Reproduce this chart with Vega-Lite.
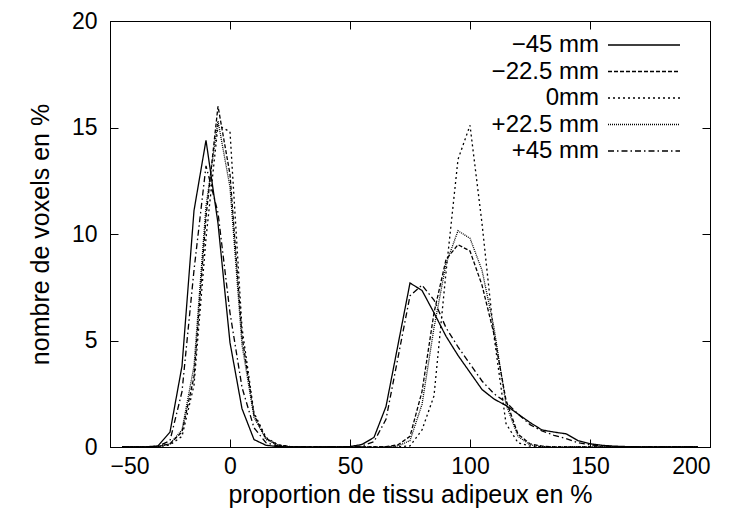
{
  "$schema": "https://vega.github.io/schema/vega-lite/v6.json",
  "width": 600,
  "height": 426,
  "autosize": "none",
  "padding": {"left": 110, "top": 21, "right": 29, "bottom": 77},
  "background": "white",
  "config": {
    "font": "Liberation Sans",
    "view": {"stroke": "black", "strokeWidth": 1},
    "axis": {
      "domainColor": "black", "tickColor": "black", "labelColor": "black", "titleColor": "black",
      "grid": false, "labelFontSize": 23, "titleFontSize": 25, "titleFontWeight": "normal",
      "tickSize": -8, "labelFont": "Liberation Sans", "titleFont": "Liberation Sans"
    }
  },
  "data": {"values": [
    {"s":"−45 mm","x":-45,"y":0},{"s":"−45 mm","x":-35,"y":0.01},{"s":"−45 mm","x":-30,"y":0.05},{"s":"−45 mm","x":-25,"y":0.7},{"s":"−45 mm","x":-20,"y":3.8},{"s":"−45 mm","x":-15,"y":11.1},{"s":"−45 mm","x":-10,"y":14.4},{"s":"−45 mm","x":-5,"y":10.5},{"s":"−45 mm","x":0,"y":4.9},{"s":"−45 mm","x":5,"y":1.8},{"s":"−45 mm","x":10,"y":0.35},{"s":"−45 mm","x":15,"y":0.08},{"s":"−45 mm","x":20,"y":0.02},{"s":"−45 mm","x":25,"y":0},{"s":"−45 mm","x":45,"y":0},{"s":"−45 mm","x":50,"y":0.02},{"s":"−45 mm","x":55,"y":0.12},{"s":"−45 mm","x":60,"y":0.45},{"s":"−45 mm","x":65,"y":1.9},{"s":"−45 mm","x":70,"y":4.8},{"s":"−45 mm","x":75,"y":7.7},{"s":"−45 mm","x":80,"y":7.35},{"s":"−45 mm","x":85,"y":6.3},{"s":"−45 mm","x":90,"y":5.2},{"s":"−45 mm","x":95,"y":4.3},{"s":"−45 mm","x":100,"y":3.5},{"s":"−45 mm","x":105,"y":2.7},{"s":"−45 mm","x":110,"y":2.25},{"s":"−45 mm","x":115,"y":1.95},{"s":"−45 mm","x":120,"y":1.55},{"s":"−45 mm","x":125,"y":1.15},{"s":"−45 mm","x":130,"y":0.8},{"s":"−45 mm","x":135,"y":0.7},{"s":"−45 mm","x":140,"y":0.62},{"s":"−45 mm","x":145,"y":0.3},{"s":"−45 mm","x":150,"y":0.15},{"s":"−45 mm","x":155,"y":0.08},{"s":"−45 mm","x":160,"y":0.04},{"s":"−45 mm","x":165,"y":0.02},{"s":"−45 mm","x":170,"y":0.01},{"s":"−45 mm","x":175,"y":0},{"s":"−45 mm","x":195,"y":0},
    {"s":"−22.5 mm","x":-45,"y":0},{"s":"−22.5 mm","x":-35,"y":0},{"s":"−22.5 mm","x":-30,"y":0.02},{"s":"−22.5 mm","x":-25,"y":0.15},{"s":"−22.5 mm","x":-20,"y":0.7},{"s":"−22.5 mm","x":-15,"y":3.3},{"s":"−22.5 mm","x":-10,"y":10.8},{"s":"−22.5 mm","x":-5,"y":16.0},{"s":"−22.5 mm","x":0,"y":12.8},{"s":"−22.5 mm","x":5,"y":5.2},{"s":"−22.5 mm","x":10,"y":1.5},{"s":"−22.5 mm","x":15,"y":0.4},{"s":"−22.5 mm","x":20,"y":0.1},{"s":"−22.5 mm","x":25,"y":0.02},{"s":"−22.5 mm","x":30,"y":0},{"s":"−22.5 mm","x":60,"y":0},{"s":"−22.5 mm","x":65,"y":0.02},{"s":"−22.5 mm","x":70,"y":0.1},{"s":"−22.5 mm","x":75,"y":0.5},{"s":"−22.5 mm","x":80,"y":2.6},{"s":"−22.5 mm","x":85,"y":6.3},{"s":"−22.5 mm","x":90,"y":8.8},{"s":"−22.5 mm","x":95,"y":9.5},{"s":"−22.5 mm","x":100,"y":9.2},{"s":"−22.5 mm","x":105,"y":7.6},{"s":"−22.5 mm","x":110,"y":5.3},{"s":"−22.5 mm","x":115,"y":2.2},{"s":"−22.5 mm","x":120,"y":0.6},{"s":"−22.5 mm","x":125,"y":0.15},{"s":"−22.5 mm","x":130,"y":0.04},{"s":"−22.5 mm","x":135,"y":0.01},{"s":"−22.5 mm","x":140,"y":0},{"s":"−22.5 mm","x":195,"y":0},
    {"s":"0mm","x":-45,"y":0},{"s":"0mm","x":-35,"y":0},{"s":"0mm","x":-30,"y":0.01},{"s":"0mm","x":-25,"y":0.1},{"s":"0mm","x":-20,"y":0.5},{"s":"0mm","x":-15,"y":2.9},{"s":"0mm","x":-10,"y":9.8},{"s":"0mm","x":-5,"y":15.1},{"s":"0mm","x":0,"y":14.8},{"s":"0mm","x":5,"y":5.6},{"s":"0mm","x":10,"y":1.6},{"s":"0mm","x":15,"y":0.45},{"s":"0mm","x":20,"y":0.1},{"s":"0mm","x":25,"y":0.02},{"s":"0mm","x":30,"y":0},{"s":"0mm","x":65,"y":0},{"s":"0mm","x":70,"y":0.01},{"s":"0mm","x":75,"y":0.05},{"s":"0mm","x":80,"y":0.8},{"s":"0mm","x":85,"y":2.4},{"s":"0mm","x":90,"y":8.2},{"s":"0mm","x":95,"y":13.5},{"s":"0mm","x":100,"y":15.1},{"s":"0mm","x":105,"y":10.5},{"s":"0mm","x":110,"y":5.2},{"s":"0mm","x":115,"y":1.1},{"s":"0mm","x":120,"y":0.2},{"s":"0mm","x":125,"y":0.04},{"s":"0mm","x":130,"y":0.01},{"s":"0mm","x":135,"y":0},{"s":"0mm","x":195,"y":0},
    {"s":"+22.5 mm","x":-45,"y":0},{"s":"+22.5 mm","x":-35,"y":0},{"s":"+22.5 mm","x":-30,"y":0.02},{"s":"+22.5 mm","x":-25,"y":0.15},{"s":"+22.5 mm","x":-20,"y":0.8},{"s":"+22.5 mm","x":-15,"y":3.8},{"s":"+22.5 mm","x":-10,"y":11.3},{"s":"+22.5 mm","x":-5,"y":15.3},{"s":"+22.5 mm","x":0,"y":12.2},{"s":"+22.5 mm","x":5,"y":4.8},{"s":"+22.5 mm","x":10,"y":1.4},{"s":"+22.5 mm","x":15,"y":0.35},{"s":"+22.5 mm","x":20,"y":0.08},{"s":"+22.5 mm","x":25,"y":0.01},{"s":"+22.5 mm","x":30,"y":0},{"s":"+22.5 mm","x":60,"y":0},{"s":"+22.5 mm","x":65,"y":0.01},{"s":"+22.5 mm","x":70,"y":0.05},{"s":"+22.5 mm","x":75,"y":0.3},{"s":"+22.5 mm","x":80,"y":2.0},{"s":"+22.5 mm","x":85,"y":5.6},{"s":"+22.5 mm","x":90,"y":8.6},{"s":"+22.5 mm","x":95,"y":10.15},{"s":"+22.5 mm","x":100,"y":9.8},{"s":"+22.5 mm","x":105,"y":8.3},{"s":"+22.5 mm","x":110,"y":5.6},{"s":"+22.5 mm","x":115,"y":2.0},{"s":"+22.5 mm","x":120,"y":0.5},{"s":"+22.5 mm","x":125,"y":0.1},{"s":"+22.5 mm","x":130,"y":0.02},{"s":"+22.5 mm","x":135,"y":0},{"s":"+22.5 mm","x":195,"y":0},
    {"s":"+45 mm","x":-45,"y":0},{"s":"+45 mm","x":-35,"y":0},{"s":"+45 mm","x":-30,"y":0.03},{"s":"+45 mm","x":-25,"y":0.3},{"s":"+45 mm","x":-20,"y":2.6},{"s":"+45 mm","x":-15,"y":8.3},{"s":"+45 mm","x":-10,"y":13.2},{"s":"+45 mm","x":-5,"y":11.0},{"s":"+45 mm","x":0,"y":6.3},{"s":"+45 mm","x":5,"y":2.8},{"s":"+45 mm","x":10,"y":0.9},{"s":"+45 mm","x":15,"y":0.2},{"s":"+45 mm","x":20,"y":0.05},{"s":"+45 mm","x":25,"y":0.01},{"s":"+45 mm","x":30,"y":0},{"s":"+45 mm","x":45,"y":0},{"s":"+45 mm","x":50,"y":0.01},{"s":"+45 mm","x":55,"y":0.05},{"s":"+45 mm","x":60,"y":0.25},{"s":"+45 mm","x":65,"y":1.3},{"s":"+45 mm","x":70,"y":4.2},{"s":"+45 mm","x":75,"y":7.1},{"s":"+45 mm","x":80,"y":7.6},{"s":"+45 mm","x":85,"y":6.9},{"s":"+45 mm","x":90,"y":5.6},{"s":"+45 mm","x":95,"y":4.7},{"s":"+45 mm","x":100,"y":3.9},{"s":"+45 mm","x":105,"y":3.1},{"s":"+45 mm","x":110,"y":2.5},{"s":"+45 mm","x":115,"y":2.1},{"s":"+45 mm","x":120,"y":1.55},{"s":"+45 mm","x":125,"y":1.05},{"s":"+45 mm","x":130,"y":0.75},{"s":"+45 mm","x":135,"y":0.55},{"s":"+45 mm","x":140,"y":0.4},{"s":"+45 mm","x":145,"y":0.2},{"s":"+45 mm","x":150,"y":0.1},{"s":"+45 mm","x":155,"y":0.05},{"s":"+45 mm","x":160,"y":0.02},{"s":"+45 mm","x":165,"y":0.01},{"s":"+45 mm","x":170,"y":0},{"s":"+45 mm","x":195,"y":0}
  ]},
  "layer": [
    {
      "mark": {"type": "line", "color": "black", "strokeWidth": 1.3},
      "encoding": {
        "x": {"field": "x", "type": "quantitative", "scale": {"domain": [-50, 200], "nice": false},
              "axis": {"values": [-50, 0, 50, 100, 150, 200], "title": "proportion de tissu adipeux en %", "labelPadding": 16, "titlePadding": 4}},
        "y": {"field": "y", "type": "quantitative", "scale": {"domain": [0, 20], "nice": false},
              "axis": {"values": [0, 5, 10, 15, 20], "title": "nombre de voxels en %", "labelPadding": 21, "titlePadding": 18}},
        "strokeDash": {"field": "s", "type": "nominal",
          "scale": {"domain": ["−45 mm", "−22.5 mm", "0mm", "+22.5 mm", "+45 mm"],
                    "range": [[1, 0], [4, 2], [2, 3], [1, 1], [6, 3, 1.5, 3]]},
          "legend": {"title": null, "orient": "none", "legendX": 521, "legendY": 11, "padding": 0,
                     "symbolType": "M-3,0H3", "symbolSize": 576, "rowPadding": 1.5,
                     "symbolStrokeWidth": 1.3, "symbolStrokeColor": "black", "symbolFillColor": "transparent",
                     "labelFontSize": 24, "labelAlign": "right", "labelOffset": -58,
                     "labelColor": "black", "labelFont": "Liberation Sans"}}
      }
    },
    {
      "mark": {"type": "line", "opacity": 0},
      "encoding": {
        "x": {"field": "x", "type": "quantitative", "axis": {"orient": "top", "values": [-50, 0, 50, 100, 150, 200], "labels": false, "title": null}},
        "y": {"field": "y", "type": "quantitative", "axis": {"orient": "right", "values": [0, 5, 10, 15, 20], "labels": false, "title": null}},
        "detail": {"field": "s"}
      }
    }
  ],
  "resolve": {"axis": {"x": "independent", "y": "independent"}}
}
